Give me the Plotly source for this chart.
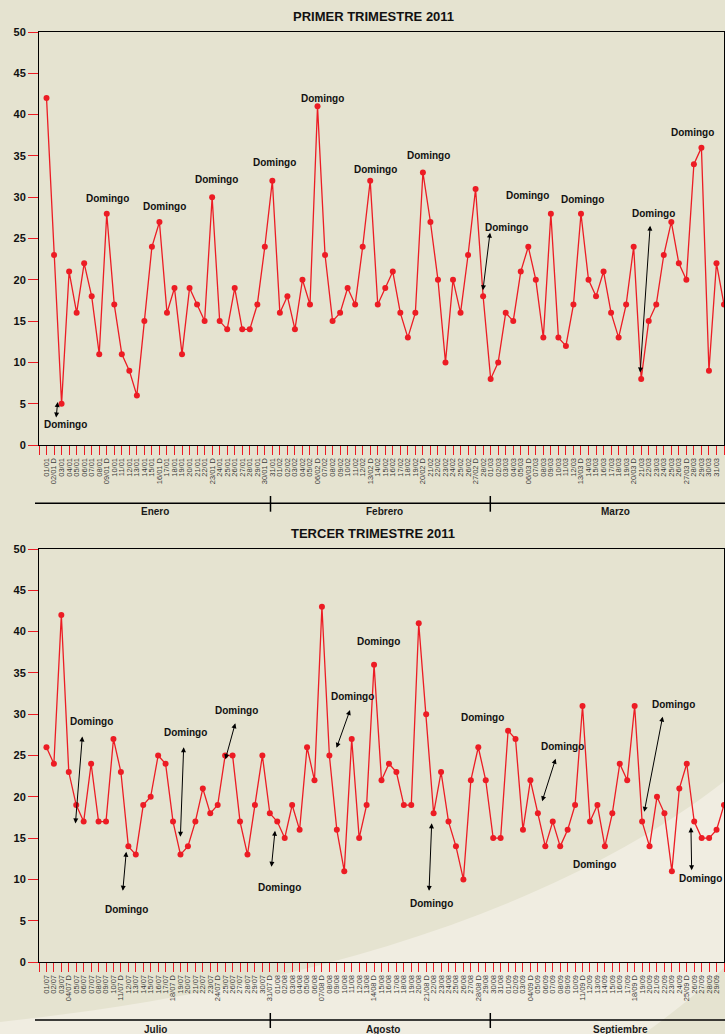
import plotly.graph_objects as go

# ---------------- data ----------------
labels_q1 = [
    "01/01", "02/01 D", "03/01", "04/01", "05/01", "06/01", "07/01", "08/01", "09/01 D", "10/01",
    "11/01", "12/01", "13/01", "14/01", "15/01", "16/01 D", "17/01", "18/01", "19/01", "20/01",
    "21/01", "22/01", "23/01 D", "24/01", "25/01", "26/01", "27/01", "28/01", "29/01", "30/01 D",
    "31/01", "01/02", "02/02", "03/02", "04/02", "05/02", "06/02 D", "07/02", "08/02", "09/02",
    "10/02", "11/02", "12/02", "13/02 D", "14/02", "15/02", "16/02", "17/02", "18/02", "19/02",
    "20/02 D", "21/02", "22/02", "23/02", "24/02", "25/02", "26/02", "27/02 D", "28/02", "01/03",
    "02/03", "03/03", "04/03", "05/03", "06/03 D", "07/03", "08/03", "09/03", "10/03", "11/03",
    "12/03", "13/03 D", "14/03", "15/03", "16/03", "17/03", "18/03", "19/03", "20/03 D", "21/03",
    "22/03", "23/03", "24/03", "25/03", "26/03", "27/03 D", "28/03", "29/03", "30/03", "31/03",
    "31/03",
]
values_q1 = [
    42, 23, 5, 21, 16, 22, 18, 11, 28, 17,
    11, 9, 6, 15, 24, 27, 16, 19, 11, 19,
    17, 15, 30, 15, 14, 19, 14, 14, 17, 24,
    32, 16, 18, 14, 20, 17, 41, 23, 15, 16,
    19, 17, 24, 32, 17, 19, 21, 16, 13, 16,
    33, 27, 20, 10, 20, 16, 23, 31, 18, 8,
    10, 16, 15, 21, 24, 20, 13, 28, 13, 12,
    17, 28, 20, 18, 21, 16, 13, 17, 24, 8,
    15, 17, 23, 27, 22, 20, 34, 36, 9, 22,
    17,
]
labels_q3 = [
    "01/07", "02/07", "03/07", "04/07 D", "05/07", "06/07", "07/07", "08/07", "09/07", "10/07",
    "11/07 D", "12/07", "13/07", "14/07", "15/07", "16/07", "17/07", "18/07 D", "19/07", "20/07",
    "21/07", "22/07", "23/07", "24/07 D", "25/07", "26/07", "27/07", "28/07", "29/07", "30/07",
    "31/07 D", "01/08", "02/08", "03/08", "04/08", "05/08", "06/08", "07/08 D", "08/08", "09/08",
    "10/08", "11/08", "12/08", "13/08", "14/08 D", "15/08", "16/08", "17/08", "18/08", "19/08",
    "20/08", "21/08 D", "22/08", "23/08", "24/08", "25/08", "26/08", "27/08", "28/08 D", "29/08",
    "30/08", "31/08", "01/09", "02/09", "03/09", "04/09 D", "05/09", "06/09", "07/09", "08/09",
    "09/09", "10/09", "11/09 D", "12/09", "13/09", "14/09", "15/09", "16/09", "17/09", "18/09 D",
    "19/09", "20/09", "21/09", "22/09", "23/09", "24/09", "25/09 D", "26/09", "27/09", "28/09",
    "29/09", "30/09",
]
values_q3 = [
    26, 24, 42, 23, 19, 17, 24, 17, 17, 27,
    23, 14, 13, 19, 20, 25, 24, 17, 13, 14,
    17, 21, 18, 19, 25, 25, 17, 13, 19, 25,
    18, 17, 15, 19, 16, 26, 22, 43, 25, 16,
    11, 27, 15, 19, 36, 22, 24, 23, 19, 19,
    41, 30, 18, 23, 17, 14, 10, 22, 26, 22,
    15, 15, 28, 27, 16, 22, 18, 14, 17, 14,
    16, 19, 31, 17, 19, 14, 18, 24, 22, 31,
    17, 14, 20, 18, 11, 21, 24, 17, 15, 15,
    16, 19,
]
months_q1 = ["Enero", "Febrero", "Marzo"]
months_q3 = ["Julio", "Agosto", "Septiembre"]
title_q1 = "PRIMER TRIMESTRE 2011"
title_q3 = "TERCER TRIMESTRE 2011"
note_text = "Domingo"

# "Domingo" note positions (data units of each panel)
notes_q1 = [(2.55, 2.54), (8.07, 29.9), (15.70, 28.9), (22.56, 32.1), (30.22, 34.26),
            (36.6, 42.0), (43.64, 33.3), (50.72, 35.0), (61.13, 26.3), (63.93, 30.2),
            (71.18, 29.7), (80.6, 27.97), (85.8, 37.8)]
arrows_q1 = [(1.26, 3.15, 1.48, 5.2), (57.95, 18.56, 58.92, 25.7), (78.85, 8.6, 80.19, 26.55)]
notes_q3 = [(6.02, 29.1), (10.78, 6.4), (18.7, 27.76), (25.46, 30.39), (31.27, 9.08),
            (41.1, 32.1), (44.53, 38.78), (51.74, 7.06), (58.54, 29.58), (69.37, 26.07),
            (73.58, 11.86), (84.19, 31.2), (87.8, 10.05)]
arrows_q3 = [(3.88, 16.6, 4.82, 27.3), (10.24, 8.44, 10.72, 13.35), (17.98, 14.98, 18.43, 26.0),
             (23.98, 24.37, 25.36, 28.9), (30.2, 11.34, 30.7, 15.9), (38.89, 25.75, 40.77, 30.5),
             (51.38, 8.44, 51.74, 16.79), (66.51, 19.29, 68.39, 24.6), (80.25, 18.0, 82.76, 29.7),
             (86.66, 10.93, 86.56, 16.3)]

# ---------------- layout helpers ----------------
W, H = 725, 1034
ML, MR, MT, MB = 39, 1, 32, 72
PW, PH = W - ML - MR, H - MT - MB


def px(xp):
    return (xp - ML) / PW


def py(yp):
    return (H - MB - yp) / PH


BG = "#e5e3d0"
LIGHT = "#f0ede1"
RED = "#ec1c24"
FONT = "Liberation Sans, Arial, sans-serif"

fig = go.Figure()

x_q1 = list(range(len(values_q1)))
x_q3 = list(range(len(values_q3)))

fig.add_trace(go.Scatter(x=x_q1, y=values_q1, mode="lines+markers",
                         line=dict(color=RED, width=1.3), marker=dict(color=RED, size=6),
                         xaxis="x", yaxis="y", showlegend=False, hoverinfo="skip"))
fig.add_trace(go.Scatter(x=x_q3, y=values_q3, mode="lines+markers",
                         line=dict(color=RED, width=1.3), marker=dict(color=RED, size=6),
                         xaxis="x2", yaxis="y2", showlegend=False, hoverinfo="skip"))


def xaxis_cfg(n, labels, anchor):
    return dict(domain=[0, 1], anchor=anchor, range=[-1, n - 1],
                tickmode="array", tickvals=[-1] + list(range(n)), ticktext=[""] + labels,
                tickangle=-90, ticks="outside", ticklen=9, tickwidth=1, tickcolor=RED,
                tickfont=dict(family=FONT, size=7.5, color="#3c3c3c"),
                showline=True, linecolor="black", linewidth=1, mirror=True,
                showgrid=False, zeroline=False, fixedrange=True)


def yaxis_cfg(dom, anchor):
    return dict(domain=dom, anchor=anchor, range=[0, 50], dtick=5, tick0=0,
                ticks="outside", ticklen=10, tickwidth=1, tickcolor=RED,
                tickfont=dict(family=FONT, size=11, color="#111111", weight="bold"),
                showline=True, linecolor="black", linewidth=1, mirror=True,
                showgrid=False, zeroline=False, fixedrange=True)


annotations = []
shapes = []

# background swooshes
shapes.append(dict(type="path", xref="paper", yref="paper", layer="below", line=dict(width=0),
                   fillcolor=LIGHT,
                   path=(f"M {px(0)},{py(1022)} C {px(300)},{py(990)} {px(560)},{py(910)} "
                         f"{px(726)},{py(780)} L {px(726)},{py(1035)} L {px(0)},{py(1035)} Z")))
shapes.append(dict(type="path", xref="paper", yref="paper", layer="below", line=dict(width=0),
                   fillcolor=BG,
                   path=(f"M {px(726)},{py(966)} Q {px(685)},{py(1005)} {px(642)},{py(1035)} "
                         f"L {px(726)},{py(1035)} Z")))

# titles
for t, yy in [(title_q1, 16), (title_q3, 533)]:
    annotations.append(dict(text=f"<b>{t}</b>", x=px(373), y=py(yy), xref="paper", yref="paper",
                            showarrow=False, xanchor="center", yanchor="middle",
                            font=dict(family=FONT, size=13, color="#111111")))

# month bands
for line_y, tick_y0, tick_y1, tick_xs, label_y, label_xs, names in [
    (503.3, 496, 511.7, [270.5, 490.3], 511.7, [155, 384, 615], months_q1),
    (1020, 1013, 1028, [270.3, 490.3], 1029.5, [155, 383, 620], months_q3),
]:
    shapes.append(dict(type="line", xref="paper", yref="paper", x0=px(35), x1=px(726),
                       y0=py(line_y), y1=py(line_y), line=dict(color="black", width=1.5)))
    for tx in tick_xs:
        shapes.append(dict(type="line", xref="paper", yref="paper", x0=px(tx), x1=px(tx),
                           y0=py(tick_y0), y1=py(tick_y1), line=dict(color="black", width=1.5)))
    for nm, lx in zip(names, label_xs):
        annotations.append(dict(text=f"<b>{nm}</b>", x=px(lx), y=py(label_y), xref="paper",
                                yref="paper", showarrow=False, xanchor="center", yanchor="middle",
                                font=dict(family=FONT, size=10, color="#1a1a1a")))

# Domingo notes and arrows
for notes, arrows, xr, yr in [(notes_q1, arrows_q1, "x", "y"), (notes_q3, arrows_q3, "x2", "y2")]:
    for nx, ny in notes:
        annotations.append(dict(text=f"<b>{note_text}</b>", x=nx, y=ny, xref=xr, yref=yr,
                                showarrow=False, xanchor="center", yanchor="middle",
                                font=dict(family=FONT, size=10, color="#111111")))
    for xa, ya, xb, yb in arrows:
        annotations.append(dict(text="", x=xb, y=yb, ax=xa, ay=ya, xref=xr, yref=yr,
                                axref=xr, ayref=yr, showarrow=True, arrowside="end+start",
                                arrowhead=2, startarrowhead=2, arrowsize=1, startarrowsize=1,
                                arrowwidth=1, arrowcolor="black", standoff=0, startstandoff=0))

fig.update_layout(
    width=W, height=H,
    margin=dict(l=ML, r=MR, t=MT, b=MB, pad=0),
    paper_bgcolor=BG, plot_bgcolor="rgba(0,0,0,0)",
    xaxis=xaxis_cfg(len(values_q1), labels_q1, "y"),
    yaxis=yaxis_cfg([py(445), 1], "x"),
    xaxis2=xaxis_cfg(len(values_q3), labels_q3, "y2"),
    yaxis2=yaxis_cfg([0, py(549)], "x2"),
    annotations=annotations,
    shapes=shapes,
    showlegend=False,
    font=dict(family=FONT),
)

fig.write_html("out.html", config={"displayModeBar": False},
               post_script="document.body.style.margin='0';document.body.style.overflow='hidden';")
